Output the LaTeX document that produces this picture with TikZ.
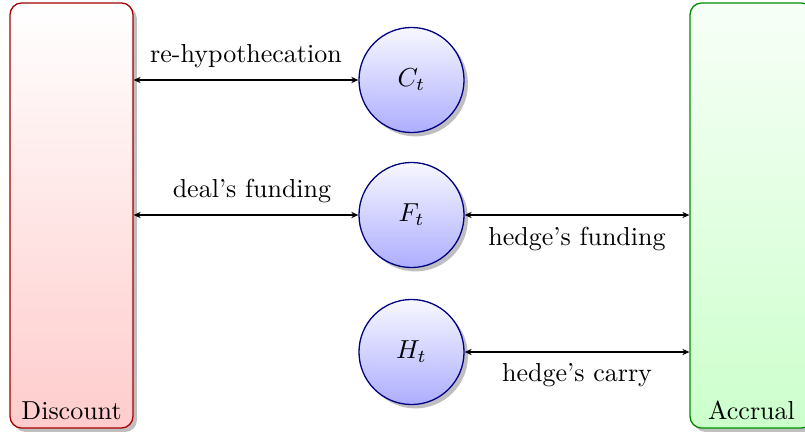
\documentclass[tikz,border=0pt]{standalone}
\usetikzlibrary{shadows,arrows.meta}
\begin{document}
\begin{tikzpicture}[x=0.3846pt,y=-0.3846pt,
  shad/.style={drop shadow={shadow xshift=1.5pt,shadow yshift=-1.5pt,fill=black!25,opacity=1}},
  sidebox/.style={rectangle,rounded corners=4.5pt,minimum width=47.3pt,minimum height=163.5pt,line width=0.5pt,shad,inner sep=0pt},
  disc/.style={sidebox,draw=red!65!black,top color=white,bottom color=red!20},
  accr/.style={sidebox,draw=green!55!black,top color=green!3,bottom color=green!20},
  var/.style={circle,minimum size=40.4pt,inner sep=0pt,draw=blue!50!black,line width=0.5pt,top color=blue!3,bottom color=blue!32,shad},
  conn/.style={{Stealth[length=2.7pt,width=2.4pt]}-{Stealth[length=2.7pt,width=2.4pt]},line width=0.4pt}]
\useasboundingbox (0,0) rectangle (805,437);
\node[disc] (D) at (71.5,215.5) {};
\node[anchor=south,inner sep=3.33pt] (Dl) at (D.south) {Discount};
\node[accr] (A) at (751.5,215.5) {};
\node[anchor=south,inner sep=3.33pt] (Al) at (A.south) {Accrual};
\node[var] (C) at (411.5,80) {$C_t$};
\node[var] (F) at (411.5,215) {$F_t$};
\node[var] (H) at (411.5,352) {$H_t$};
\draw[conn] (C.west -| D.east) -- node[above,yshift=1pt] {re-hypothecation} (C.west);
\draw[conn] (F.west -| D.east) -- node[above,yshift=1pt,xshift=2.3pt] {deal's funding} (F.west);
\draw[conn] (F.east) -- node[below,yshift=-1pt] {hedge's funding} (F.east -| A.west);
\draw[conn] (H.east) -- node[below,yshift=-1pt] {hedge's carry} (H.east -| A.west);
\end{tikzpicture}
\end{document}
